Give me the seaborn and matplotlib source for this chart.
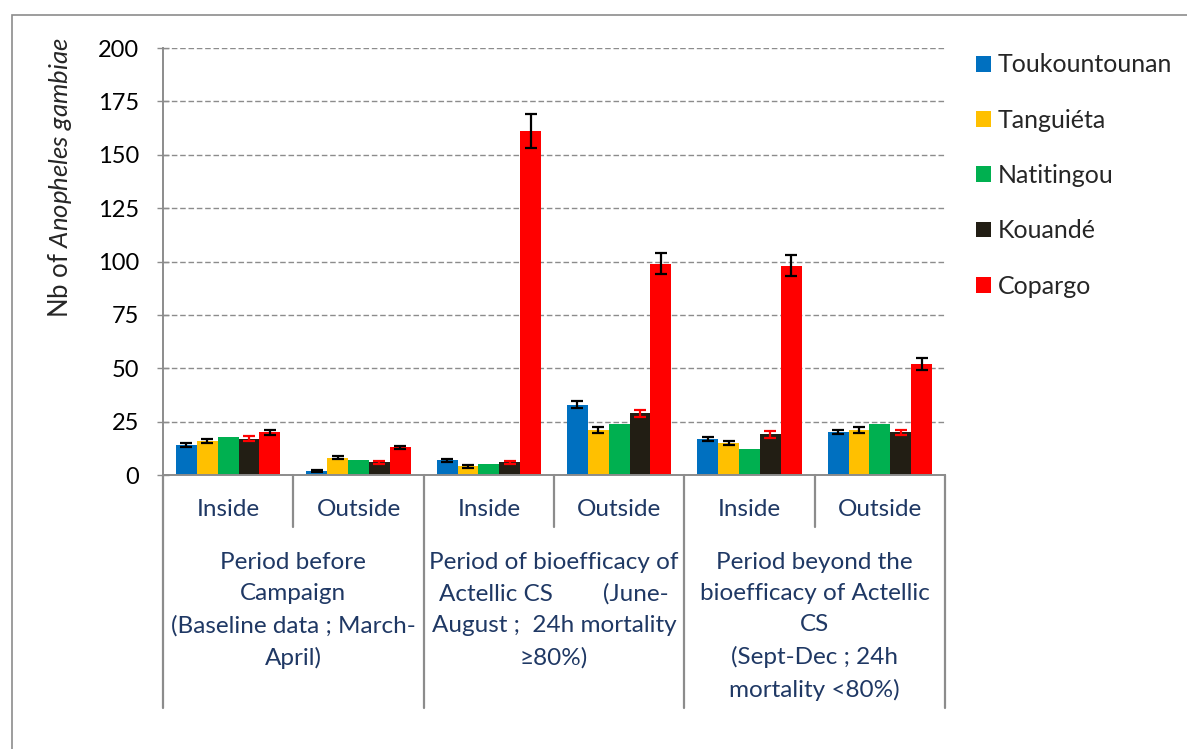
import pandas as pd
import seaborn as sns
import matplotlib.pyplot as plt
from matplotlib.patches import Rectangle
from matplotlib.transforms import blended_transform_factory


sns.set_theme(style="white")
plt.rcParams['font.family'] = ['Lato', 'DejaVu Sans']
plt.rcParams['mathtext.fontset'] = 'custom'
plt.rcParams['mathtext.rm'] = 'Lato'
plt.rcParams['mathtext.it'] = 'Lato:italic'

NAVY = '#1F3864'
GREY = '#8C8C8C'

periods = [
    "Period before\nCampaign\n(Baseline data ; March-\nApril)",
    "Period of bioefficacy of\nActellic CS        (June-\nAugust ;  24h mortality\n\u226580%)",
    "Period beyond the\nbioefficacy of Actellic\nCS\n(Sept-Dec ; 24h\nmortality <80%)",
]
locations = ["Inside", "Outside"]
sites = ["Toukountounan", "Tanguiéta", "Natitingou", "Kouandé", "Copargo"]
colors = ["#0070C0", "#FFC000", "#00B050", "#221E14", "#FF0000"]
err_colors = ["black", "black", "black", "#FF0000", "black"]

# one value per slot: (before in, before out, bio in, bio out, beyond in, beyond out)
toukountounan = [14, 2, 7, 33, 17, 20]
tanguieta = [16, 8, 4, 21, 15, 21]
natitingou = [18, 7, 5, 24, 12, 24]
kouande = [17, 6, 6, 29, 19, 20]
copargo = [20, 13, 161, 99, 98, 52]

toukountounan_err = [1, 0.5, 0.7, 1.8, 1, 1]
tanguieta_err = [1, 0.7, 0.5, 1.5, 1, 1.5]
natitingou_err = [0, 0, 0, 0, 0, 0]
kouande_err = [1.2, 0.7, 0.7, 1.6, 1.5, 1.2]
copargo_err = [1.2, 0.8, 8, 5, 5, 2.7]

values = [toukountounan, tanguieta, natitingou, kouande, copargo]
errors = [toukountounan_err, tanguieta_err, natitingou_err, kouande_err, copargo_err]

slots = [f"{p}|{loc}" for p in range(len(periods)) for loc in locations]
rows = []
for site, vals in zip(sites, values):
    for slot, v in zip(slots, vals):
        rows.append({'slot': slot, 'site': site, 'count': v})
df = pd.DataFrame(rows)

fig = plt.figure(figsize=(11.87, 7.49), dpi=100)
ax = fig.add_axes([163 / 1187, 1 - 475 / 749, 782 / 1187, 427 / 749])

sns.barplot(data=df, x='slot', y='count', hue='site', order=slots, hue_order=sites,
            palette=dict(zip(sites, colors)), saturation=1, width=0.8,
            linewidth=0, ax=ax, zorder=2)

# error bars on top of the bars seaborn drew
for cont, errs, ec in zip(ax.containers, errors, err_colors):
    xs = [b.get_x() + b.get_width() / 2 for b in cont]
    hs = [b.get_height() for b in cont]
    keep = [i for i, e in enumerate(errs) if e > 0]
    if not keep:
        continue
    ax.errorbar([xs[i] for i in keep], [hs[i] for i in keep], yerr=[errs[i] for i in keep],
                fmt='none', ecolor=ec, elinewidth=1.6, capsize=4.5, capthick=1.6, zorder=3)

ax.set_ylim(0, 200)
ax.set_xlim(-0.5, len(slots) - 0.5)
ax.set_yticks(range(0, 201, 25))
ax.yaxis.grid(True, color=GREY, linestyle=(0, (4, 2)), linewidth=1.0, zorder=0)
ax.xaxis.grid(False)
ax.set_axisbelow(True)

for side in ['top', 'right']:
    ax.spines[side].set_visible(False)
for side in ['left', 'bottom']:
    ax.spines[side].set_color(GREY)
    ax.spines[side].set_linewidth(1.4)

ax.tick_params(axis='y', direction='inout', length=8.5, width=1, color=GREY,
               labelsize=17, labelcolor='black', pad=13, left=True)
ax.set_xticks(range(len(slots)))
ax.set_xticklabels([s.split('|')[1] for s in slots])
ax.tick_params(axis='x', length=0, labelsize=17.5, labelcolor=NAVY, pad=17)
ax.set_xlabel('')
ax.set_ylabel('')

# hierarchical category separators below the axis
trans = blended_transform_factory(ax.transData, ax.transAxes)
for x in [0.5, 2.5, 4.5]:
    ax.plot([x, x], [0, -52 / 427], transform=trans, color=GREY, lw=1.6, clip_on=False)
for x in [-0.5, 1.5, 3.5, 5.5]:
    ax.plot([x, x], [0, -233 / 427], transform=trans, color=GREY, lw=1.6, clip_on=False)

for i, p in enumerate(periods):
    ax.text(2 * i + 0.5, -77 / 427, p, transform=trans, ha='center', va='top',
            fontsize=17.5, color=NAVY, linespacing=1.6, multialignment='center')

fig.text(60 / 1187, 1 - 178 / 749, r"Nb of $\mathit{Anopheles\ gambiae}$", rotation=90,
         ha='center', va='center', fontsize=18.5)

handles, labels = ax.get_legend_handles_labels()
ax.legend(handles, labels, loc='upper left', bbox_to_anchor=(963 / 1187, 1 - 41 / 749),
          bbox_transform=fig.transFigure, frameon=False, fontsize=18, borderpad=0,
          labelspacing=1.29, handlelength=0.6, handleheight=0.6, handletextpad=0.3)

fig.add_artist(Rectangle((12 / 1187, -0.1), 1.2, 1.1 - 15 / 749, transform=fig.transFigure,
                         fill=False, edgecolor=GREY, linewidth=1.2))

fig.savefig('out.png', dpi=100)
